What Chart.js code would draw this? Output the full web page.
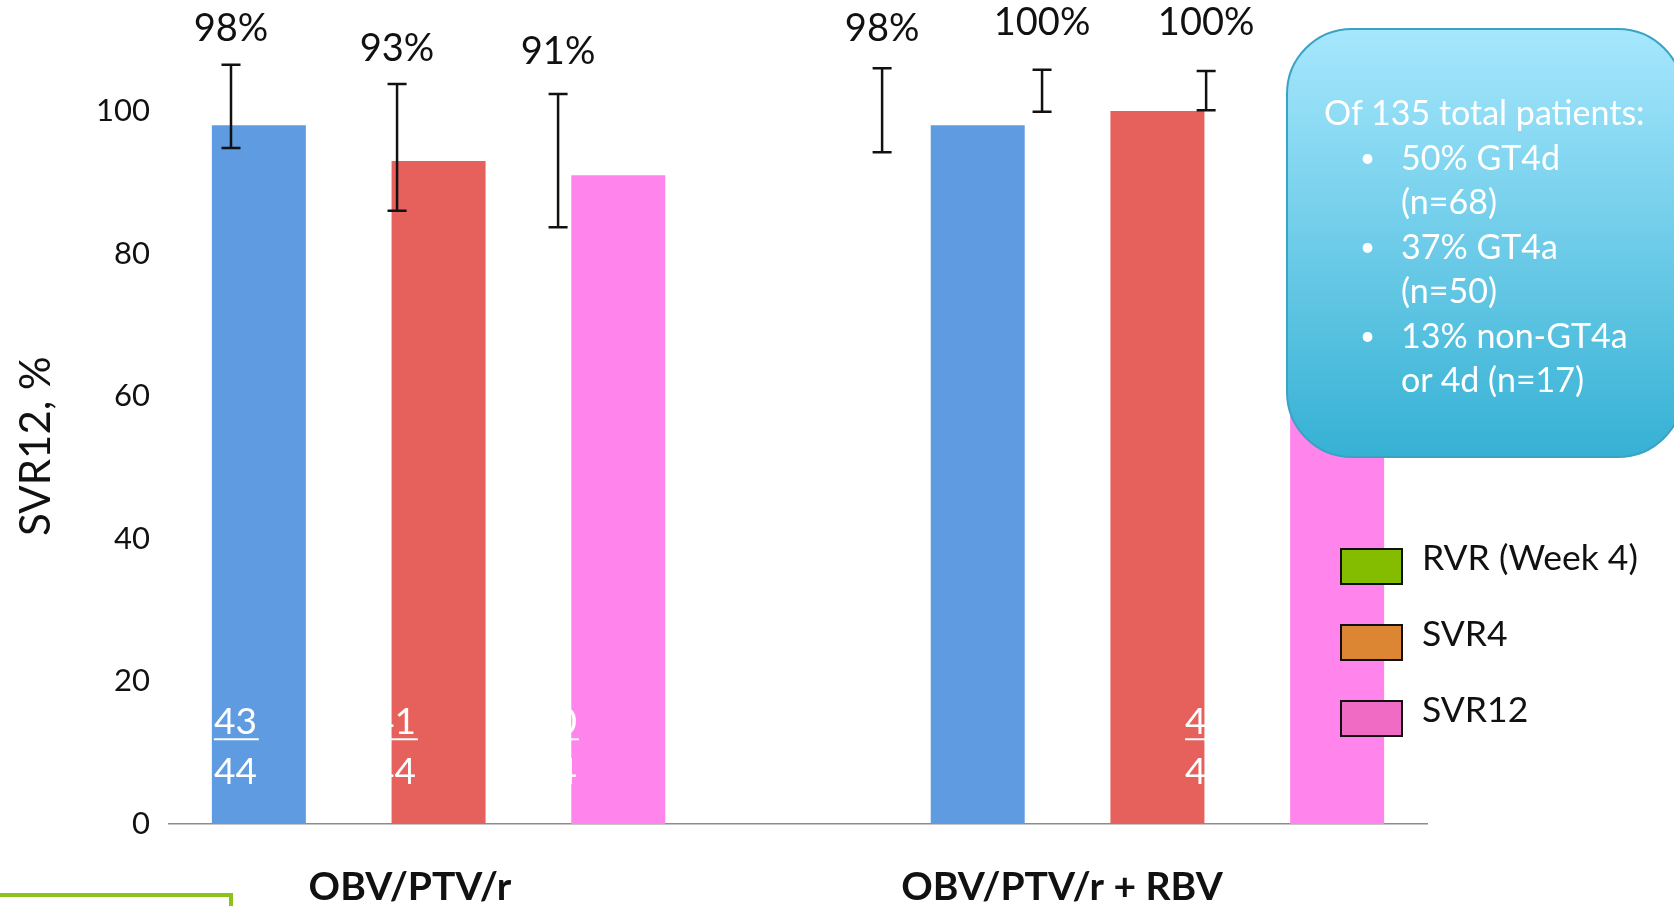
<!DOCTYPE html>
<html>
<head>
<meta charset="utf-8">
<script src="https://cdn.jsdelivr.net/npm/chart.js@4.4.1/dist/chart.umd.min.js"></script>
<style>
  html, body { margin: 0; padding: 0; background: #fff; overflow: hidden; }
  #wrap { position: relative; width: 1674px; height: 906px; overflow: hidden; font-family: Lato, sans-serif; }
  #chart { position: absolute; left: 0; top: 0; }
  #note {
    position: absolute; left: 1286px; top: 28px; width: 398px; height: 430px;
    box-sizing: border-box; border: 2px solid #3aa3c3; border-radius: 66px;
    background: linear-gradient(#a6e7fd, #36b1d4);
    color: #fff; font-size: 34px; line-height: 44.5px; padding: 60px 0 0 36px;
  }
  #note ul { list-style: none; margin: 0; padding: 0 0 0 77px; }
  #note li { position: relative; }
  #note li::before { content: '\2022'; position: absolute; left: -41px; font-size: 26px; }
  #frame { position: absolute; left: -10px; top: 893px; width: 243px; height: 60px; box-sizing: border-box; border: 4px solid #8cc21e; }
</style>
</head>
<body>
<div id="wrap">
  <canvas id="chart" width="1674" height="906"></canvas>
  <div id="note">
    <div>Of 135 total patients:</div>
    <ul>
      <li>50% GT4d<br>(n=68)</li>
      <li>37% GT4a<br>(n=50)</li>
      <li>13% non-GT4a<br>or 4d (n=17)</li>
    </ul>
  </div>
  <div id="frame"></div>
</div>
<script>
// 7 slots on the x axis, the middle one is the gap between the two regimens
const slots = ["RVR", "SVR4", "SVR12", "", "RVR", "SVR4", "SVR12"];
const svrValues = [98, 93, 91, null, 98, 100, 100];

// error bars (drawn slightly off the bars, as in the slide)
const errAt = [-0.155, 0.769, 1.665, 3.468, 4.358, 5.271];
const errLow = [94.8, 86.0, 83.7, 94.2, 99.9, 100.1];
const errHigh = [106.5, 103.8, 102.4, 106.0, 105.8, 105.6];
const pctLabels = ["98%", "93%", "91%", "98%", "100%", "100%"];
const pctLabelAt = [109.8, 107.0, 106.6, 109.8, 110.7, 110.7];

// patient counts written in white under the bars
const fracNum = ["43", "41", "40", "41", "42"];
const fracDen = ["44", "44", "44", "42", "42"];
const fracAt = [-0.25, 0.635, 1.531, 4.264, 5.154];

const groupLabels = ["OBV/PTV/r", "OBV/PTV/r + RBV"];
const groupAt = [0.841, 4.469];

const yTicks = [0, 20, 40, 60, 80, 100];
const legendLabels = ["RVR (Week 4)", "SVR4", "SVR12"];
const legendColors = ["#84bd00", "#dc8532", "#f06cc4"];

const barColors = ["#5f9be1", "#e6605c", "#ff85ec", "#ffffff", "#5f9be1", "#e6605c", "#ff85ec"];

const overlay = {
  id: "overlay",
  afterDatasetsDraw(chart) {
    const { ctx, scales: { x, y } } = chart;
    ctx.save();

    // error bars
    ctx.strokeStyle = "#111";
    ctx.lineWidth = 2.5;
    errAt.forEach((v, i) => {
      const px = x.getPixelForValue(v);
      const top = y.getPixelForValue(errHigh[i]);
      const bot = y.getPixelForValue(errLow[i]);
      ctx.beginPath();
      ctx.moveTo(px, top); ctx.lineTo(px, bot);
      ctx.moveTo(px - 9.5, top); ctx.lineTo(px + 9.5, top);
      ctx.moveTo(px - 9.5, bot); ctx.lineTo(px + 9.5, bot);
      ctx.stroke();
    });

    // percent labels
    ctx.fillStyle = "#111";
    ctx.font = "38px Lato";
    ctx.textAlign = "center";
    ctx.textBaseline = "alphabetic";
    pctLabels.forEach((t, i) => {
      ctx.fillText(t, x.getPixelForValue(errAt[i]), y.getPixelForValue(pctLabelAt[i]));
    });

    // white fractions (only visible on top of the bars)
    ctx.fillStyle = "#fff";
    ctx.strokeStyle = "#fff";
    ctx.lineWidth = 2;
    ctx.font = "37px Lato";
    ctx.textAlign = "left";
    const numY = y.getPixelForValue(12.6);
    fracAt.forEach((v, i) => {
      const px = x.getPixelForValue(v);
      ctx.fillText(fracNum[i], px, numY);
      ctx.fillText(fracDen[i], px, numY + 50);
      const w = Math.max(ctx.measureText(fracNum[i]).width, ctx.measureText(fracDen[i]).width);
      ctx.beginPath();
      ctx.moveTo(px, numY + 5); ctx.lineTo(px + w + 2, numY + 5);
      ctx.stroke();
    });

    // group labels under the axis
    ctx.fillStyle = "#111";
    ctx.font = "bold 39px Lato";
    ctx.textAlign = "center";
    groupLabels.forEach((t, i) => {
      ctx.fillText(t, x.getPixelForValue(groupAt[i]), chart.chartArea.bottom + 76);
    });

    // legend
    ctx.font = "35.5px Lato";
    ctx.textAlign = "left";
    ctx.lineWidth = 2;
    ctx.strokeStyle = "#111";
    legendLabels.forEach((t, i) => {
      const top = 549 + i * 76;
      ctx.fillStyle = legendColors[i];
      ctx.fillRect(1341, top, 61, 35);
      ctx.strokeRect(1341, top, 61, 35);
      ctx.fillStyle = "#111";
      ctx.fillText(t, 1422, top + 21);
    });

    // y axis title
    ctx.translate(50, y.getPixelForValue(53));
    ctx.rotate(-Math.PI / 2);
    ctx.font = "42px Lato";
    ctx.textAlign = "center";
    ctx.fillText("SVR12, %", 0, 0);

    ctx.restore();
  }
};

new Chart(document.getElementById("chart"), {
  type: "bar",
  data: {
    labels: slots,
    datasets: [{
      label: "SVR12",
      data: svrValues,
      backgroundColor: barColors,
      borderWidth: 0,
      categoryPercentage: 1,
      barPercentage: 0.523
    }]
  },
  options: {
    responsive: false,
    animation: false,
    layout: { padding: { top: 111, right: 247, bottom: 74, left: 0 } },
    plugins: { legend: { display: false }, tooltip: { enabled: false } },
    scales: {
      x: {
        grid: { display: false },
        ticks: { display: false },
        border: { display: true, color: "#8c8c8c", width: 1.5 }
      },
      y: {
        min: 0,
        max: 100,
        afterFit(scale) { scale.width = 169; },
        afterBuildTicks(scale) { scale.ticks = yTicks.map(v => ({ value: v })); },
        grid: { display: false },
        border: { display: false },
        ticks: { padding: 11, color: "#111", font: { family: "Lato", size: 31 } }
      }
    }
  },
  plugins: [overlay]
});
</script>
</body>
</html>
